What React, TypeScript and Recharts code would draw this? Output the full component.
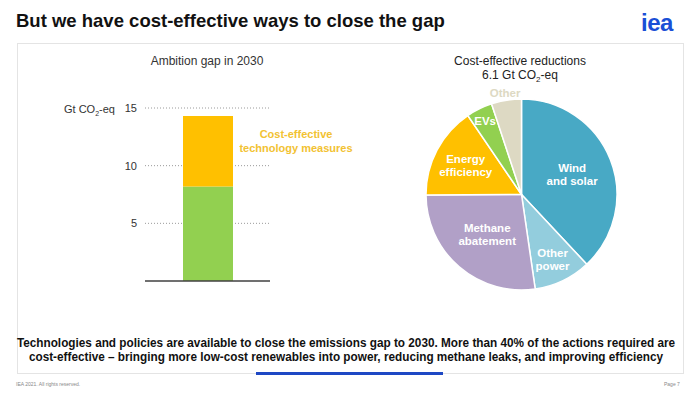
import { BarChart, Bar, XAxis, YAxis, CartesianGrid, ReferenceLine, PieChart, Pie, Cell, Label } from "recharts";

// left panel: ambition gap, Gt CO2-eq
const gapCategories = ["2030"];
const otherMeasures = [8.2];
const costEffective = [6.1];
const gapTicks = [5, 10, 15];

// right panel: split of the 6.1 Gt cost-effective reductions
const sliceNames = ["Wind and solar", "Other power", "Methane abatement", "Energy efficiency", "EVs", "Other"];
const sliceValues = [2.32, 0.59, 1.66, 0.95, 0.27, 0.31];

const FONT = "'Liberation Sans', Arial, sans-serif";

const barData = gapCategories.map((c, i) => ({ name: c, other: otherMeasures[i], cost: costEffective[i] }));
const pieData = sliceNames.map((n, i) => ({ name: n, value: sliceValues[i] }));

const sliceColors: Record<string, string> = {
  "Wind and solar": "#48A9C5",
  "Other power": "#93CDDD",
  "Methane abatement": "#B1A0C7",
  "Energy efficiency": "#FFC000",
  "EVs": "#92D050",
  "Other": "#DDD9C3",
};

// label distance from centre, as a share of the radius, and the line breaks
const labelSpot: Record<string, { r: number; lines: string[]; color: string }> = {
  "Wind and solar": { r: 0.57, lines: ["Wind", "and solar"], color: "#fff" },
  "Other power": { r: 0.75, lines: ["Other", "power"], color: "#fff" },
  "Methane abatement": { r: 0.55, lines: ["Methane", "abatement"], color: "#fff" },
  "Energy efficiency": { r: 0.66, lines: ["Energy", "efficiency"], color: "#fff" },
  "EVs": { r: 0.86, lines: ["EVs"], color: "#fff" },
  "Other": { r: 1.08, lines: ["Other"], color: "#DDD9C3" },
};

const RAD = Math.PI / 180;

const renderSliceLabel = (props: any) => {
  const { cx, cy, midAngle, outerRadius, name } = props;
  const spot = labelSpot[name];
  if (!spot) return null;
  const r = outerRadius * spot.r;
  const x = cx + r * Math.cos(-midAngle * RAD);
  const y = cy + r * Math.sin(-midAngle * RAD);
  const lh = 13;
  const y0 = y - ((spot.lines.length - 1) * lh) / 2;
  return (
    <text x={x} y={y0} fill={spot.color} textAnchor="middle" dominantBaseline="central"
      style={{ fontFamily: FONT, fontSize: 11.5, fontWeight: 700 }}>
      {spot.lines.map((l, i) => (
        <tspan key={l} x={x} dy={i === 0 ? 0 : lh}>{l}</tspan>
      ))}
    </text>
  );
};

const UnitLabel = (props: any) => {
  const { viewBox } = props;
  return (
    <text x={viewBox.x + 4} y={viewBox.y + 5} fill="#333" style={{ fontFamily: FONT, fontSize: 11 }}>
      Gt CO<tspan fontSize={7} dy={3}>2</tspan><tspan dy={-3}>-eq</tspan>
    </text>
  );
};

const narrowLine: React.CSSProperties = {
  display: "block",
  whiteSpace: "nowrap",
  transform: "scaleX(0.905)",
  transformOrigin: "center",
};

export default function App() {
  return (
    <div style={{ position: "absolute", left: 0, top: 0, width: 700, height: 396, background: "#fff", fontFamily: FONT, overflow: "hidden" }}>
      <div style={{ position: "absolute", left: 16, top: 10, fontSize: 18.5, fontWeight: 700, color: "#111" }}>
        But we have cost-effective ways to close the gap
      </div>
      <div style={{ position: "absolute", left: 641, top: 9, fontSize: 24, fontWeight: 700, color: "#1A4FD6", letterSpacing: -0.5 }}>
        iea
      </div>
      <div style={{ position: "absolute", left: 17, top: 43, width: 665, height: 329, border: "1px solid #E4E4E4" }} />

      {/* left panel */}
      <div style={{ position: "absolute", left: 107, top: 54, width: 200, textAlign: "center", fontSize: 12, color: "#333" }}>
        Ambition gap in 2030
      </div>
      <div style={{ position: "absolute", left: 60, top: 95 }}>
        <BarChart width={210} height={200} data={barData} margin={{ top: 13, right: 0, bottom: 14, left: 0 }}>
          <CartesianGrid vertical={false} strokeDasharray="1 2" stroke="#9a9a9a" horizontalValues={gapTicks} />
          <XAxis dataKey="name" hide />
          <YAxis width={85} domain={[0, 15]} ticks={gapTicks} axisLine={false} tickLine={false}
            tick={{ fill: "#333", fontSize: 11, fontFamily: FONT }}>
            <Label position="insideTopLeft" content={<UnitLabel />} />
          </YAxis>
          <Bar dataKey="other" stackId="a" fill="#92D050" barSize={50} isAnimationActive={false} />
          <Bar dataKey="cost" stackId="a" fill="#FFC000" barSize={50} isAnimationActive={false} />
          <ReferenceLine y={0} stroke="#404040" strokeWidth={1.5} />
        </BarChart>
      </div>
      <div style={{ position: "absolute", left: 236, top: 127, width: 120, textAlign: "center", fontSize: 11, fontWeight: 700, color: "#F2C232", lineHeight: "14px" }}>
        Cost-effective technology measures
      </div>

      {/* right panel */}
      <div style={{ position: "absolute", left: 420, top: 54, width: 200, textAlign: "center", fontSize: 12, color: "#222", lineHeight: "14px" }}>
        Cost-effective reductions<br />
        6.1 Gt CO<sub style={{ fontSize: 8, lineHeight: 0 }}>2</sub>-eq
      </div>
      <div style={{ position: "absolute", left: 410, top: 50 }}>
        <PieChart width={220} height={250} margin={{ top: 0, right: 0, bottom: 0, left: 0 }}>
          <Pie data={pieData} dataKey="value" nameKey="name" cx={111.5} cy={144.5} outerRadius={95.5}
            startAngle={90} endAngle={-270} stroke="#fff" strokeWidth={1.5}
            label={renderSliceLabel} labelLine={false} isAnimationActive={false}>
            {pieData.map((d) => (
              <Cell key={d.name} fill={sliceColors[d.name]} />
            ))}
          </Pie>
        </PieChart>
      </div>

      {/* takeaway */}
      <div style={{ position: "absolute", left: -54, top: 336, width: 800, textAlign: "center", fontSize: 13, fontWeight: 700, color: "#111", lineHeight: "14px" }}>
        <span style={narrowLine}>Technologies and policies are available to close the emissions gap to 2030. More than 40% of the actions required are</span>
        <span style={narrowLine}>cost-effective – bringing more low-cost renewables into power, reducing methane leaks, and improving efficiency</span>
      </div>
      <div style={{ position: "absolute", left: 256, top: 372, width: 187, height: 3, background: "#1E48C4" }} />
      <div style={{ position: "absolute", left: 16, top: 381, fontSize: 5, color: "#888" }}>IEA 2021. All rights reserved.</div>
      <div style={{ position: "absolute", left: 664, top: 381, fontSize: 5, color: "#888" }}>Page 7</div>
    </div>
  );
}
